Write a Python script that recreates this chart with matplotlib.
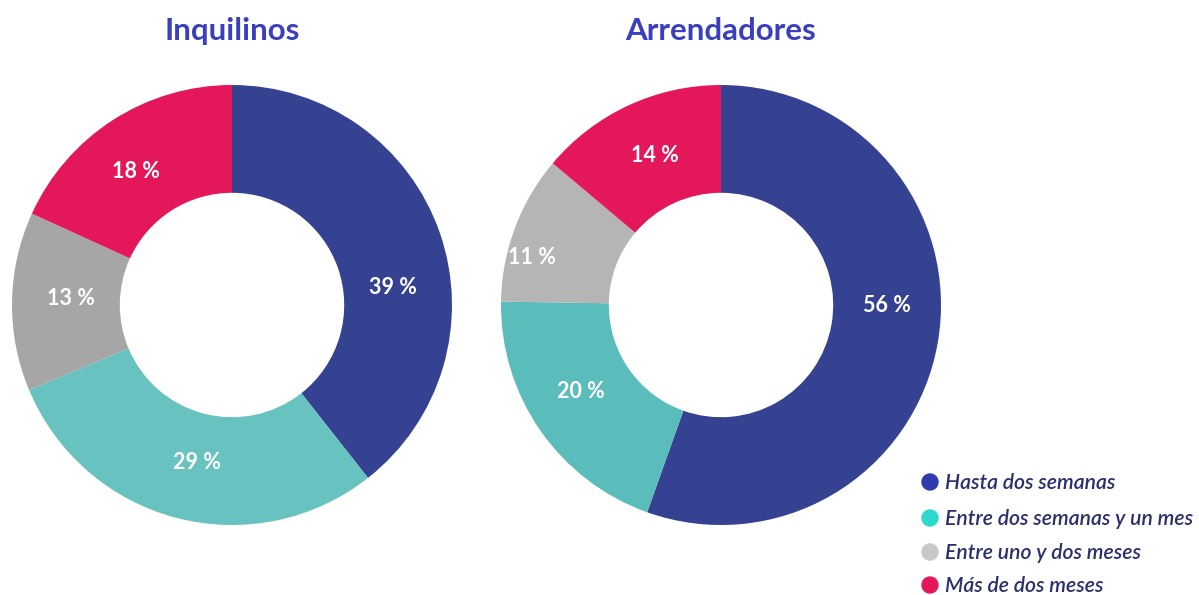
import matplotlib
matplotlib.use("Agg")
import matplotlib.pyplot as plt
import numpy as np

categories = ["Hasta dos semanas", "Entre dos semanas y un mes", "Entre uno y dos meses", "Más de dos meses"]
titles = ["Inquilinos", "Arrendadores"]
inquilinos = [39, 29, 13, 18]
arrendadores = [56, 20, 11, 14]
label_fmt = "{} %"

colors_left = ["#354291", "#68C2BF", "#A6A6A6", "#E3175A"]
colors_right = ["#354291", "#5BBDBB", "#B5B5B5", "#E3175A"]
legend_colors = ["#2F3BAE", "#2ED8CF", "#C8C8C8", "#E5175B"]

# label placement tweaks (style only): angular nudge in degrees (clockwise), radius factor
nudge_left = [(13, 0.735), (-2, 0.735), (1.5, 0.735), (-3, 0.75)]
nudge_right = [(-9.5, 0.755), (3, 0.75), (-6.5, 0.885), (1, 0.745)]

W, H = 1199, 595
fig = plt.figure(figsize=(W / 100, H / 100), dpi=100)
plt.rcParams['font.family'] = ['Lato', 'DejaVu Sans']


def draw(cx, cy, R, vals, cols, title, nudges):
    ax = fig.add_axes([(cx - R) / W, 1 - (cy + R) / H, 2 * R / W, 2 * R / H])
    ax.pie(vals, colors=cols, startangle=90, counterclock=False,
           radius=1.0, wedgeprops=dict(width=0.49, linewidth=0))
    total = sum(vals)
    ang = 0.0  # clockwise from top
    for v, (dang, r) in zip(vals, nudges):
        mid = ang + v / total * 360 / 2 + dang
        ang += v / total * 360
        ax.text(r * np.sin(np.radians(mid)), r * np.cos(np.radians(mid)), label_fmt.format(v),
                ha="center", va="center", color="white", fontsize=15.5, fontweight="bold")
    ax.set_xlim(-1, 1)
    ax.set_ylim(-1, 1)
    ax.set_aspect("equal")
    ax.axis("off")
    fig.text(cx / W, 1 - 31 / H, title, ha="center", va="center", color="#3A3FBF",
             fontsize=22.5, fontweight="bold")


draw(232, 305, 220, inquilinos, colors_left, titles[0], nudge_left)
draw(721, 305, 220, arrendadores, colors_right, titles[1], nudge_right)

ys = [482, 518, 552, 585]
for cat, col, y in zip(categories, legend_colors, ys):
    fig.patches.append(matplotlib.patches.Ellipse((930 / W, 1 - y / H), 16 / W, 16 / H,
                                                  transform=fig.transFigure, color=col))
    fig.text(945 / W, 1 - (y + 1) / H, cat, ha="left", va="center", color="#2B2F6B",
             fontsize=15.2, fontstyle="italic", fontweight="semibold")

fig.savefig("out.png", dpi=100)
